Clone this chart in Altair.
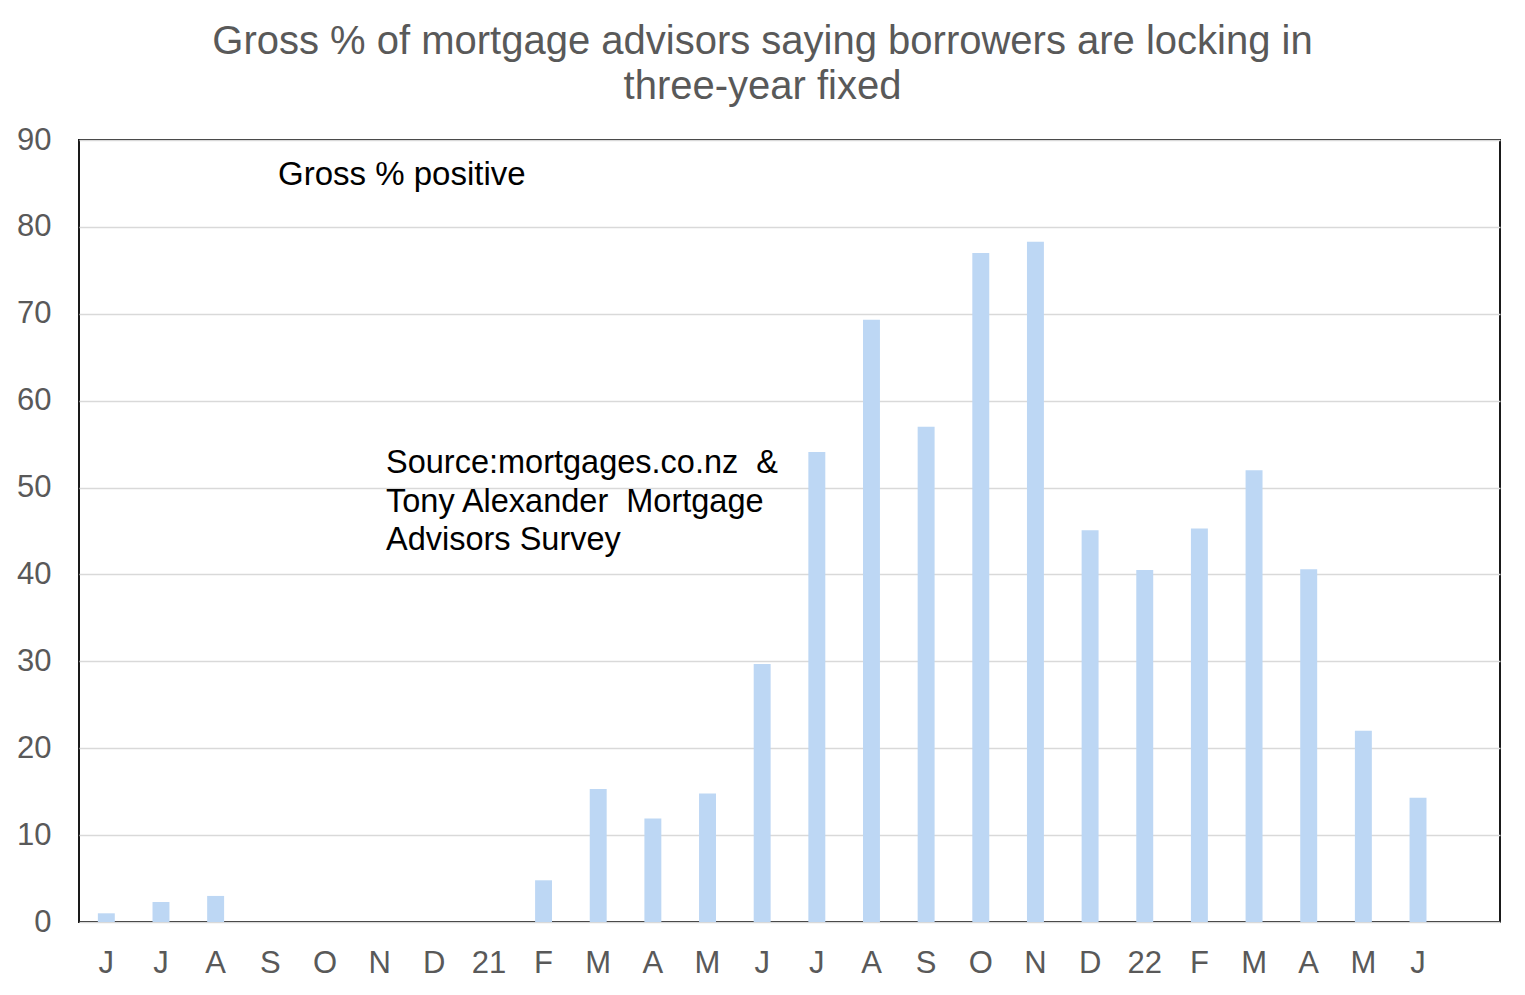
import altair as alt
import pandas as pd

labels = ["J", "J", "A", "S", "O", "N", "D", "21", "F", "M", "A", "M", "J",
          "J", "A", "S", "O", "N", "D", "22", "F", "M", "A", "M", "J", ""]
values = [1.0, 2.3, 3.0, None, None, None, None, None, 4.8, 15.3, 11.9, 14.8, 29.7,
          54.1, 69.3, 57.0, 77.0, 78.3, 45.1, 40.5, 45.3, 52.0, 40.6, 22.0, 14.3, None]

title_lines = ["Gross % of mortgage advisors saying borrowers are locking in",
               "three-year fixed"]
legend_text = "Gross % positive"
source_lines = ["Source:mortgages.co.nz \u00a0&",
                "Tony Alexander \u00a0Mortgage",
                "Advisors Survey"]

keys = list(range(len(labels)))
df = pd.DataFrame({"key": keys, "label": labels, "value": values}).dropna(subset=["value"])
one = pd.DataFrame({"k": [0]})

label_js = "[" + ",".join('"%s"' % l for l in labels) + "]"

FONT = "Liberation Sans"
GREY = "#595959"

x = alt.X("key:O",
          scale=alt.Scale(domain=keys, paddingInner=0.69, paddingOuter=0.345),
          axis=alt.Axis(title=None, labelAngle=0, labelExpr=label_js + "[datum.value]",
                        labelFont=FONT, labelFontSize=31, labelColor=GREY,
                        labelPadding=26, ticks=False, domain=False))
y = alt.Y("value:Q",
          scale=alt.Scale(domain=[0, 90], nice=False),
          axis=alt.Axis(title=None, values=list(range(0, 91, 10)),
                        labelFont=FONT, labelFontSize=31, labelColor=GREY,
                        labelPadding=28, ticks=False, domain=False,
                        grid=True, gridColor="#D9D9D9", gridWidth=1.5))

bars = alt.Chart(df).mark_bar(color="#BDD7F4").encode(x=x, y=y)

t1 = alt.Chart(one).mark_text(text=legend_text, font=FONT, fontSize=33, color="black",
                              align="left", baseline="middle").encode(
    x=alt.value(199), y=alt.value(35))
t2 = alt.Chart(one).mark_text(text=source_lines, font=FONT, fontSize=32.5, color="black",
                              align="left", baseline="middle", lineHeight=38.5).encode(
    x=alt.value(307), y=alt.value(323))

chart = alt.layer(bars, t1, t2).properties(
    width=1421, height=782,
    title=alt.TitleParams(text=title_lines, font=FONT, fontSize=40, fontWeight="normal",
                          color=GREY, anchor="middle", dx=-27, lineHeight=45, offset=17),
    autosize=alt.AutoSizeParams(type="none"),
    padding={"left": 71, "top": 132, "right": 10, "bottom": 60},
).configure_view(stroke="#1a1a1a", strokeWidth=2)

chart.save("out.html", embed_options={"renderer": "svg", "actions": False})
